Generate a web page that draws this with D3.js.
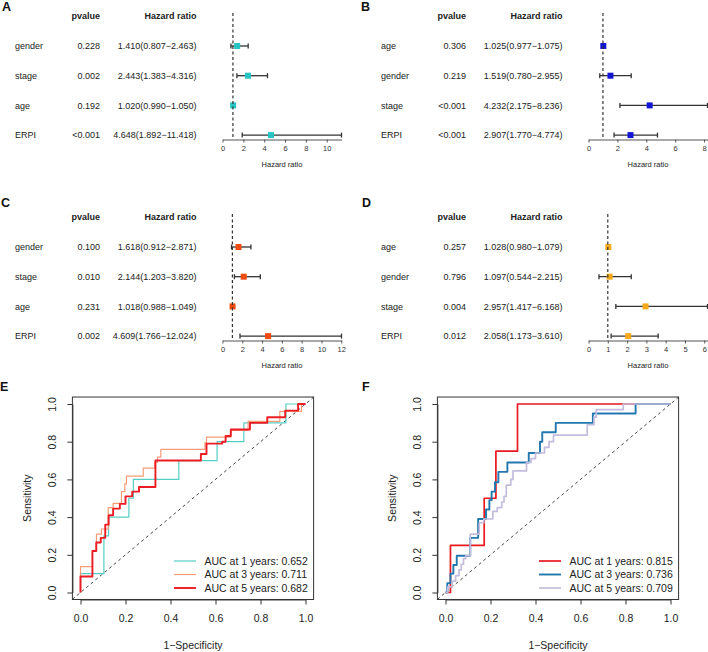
<!DOCTYPE html>
<html lang="en">
<head>
<meta charset="UTF-8">
<title>Cox regression forest plots and time-dependent ROC curves</title>
<script src="https://d3js.org/d3.v7.min.js"></script>
<style>
  body { margin: 0; background: #fff; }
  svg { display: block; }
</style>
</head>
<body>
<svg id="chart"></svg>
<script>
// ---------- forest plot data (A, B, C, D) ----------
const varsA = ["gender", "stage", "age", "ERPI"];
const pA = ["0.228", "0.002", "0.192", "<0.001"];
const hrA = [1.410, 2.443, 1.020, 4.648];
const lowA = [0.807, 1.383, 0.990, 1.892];
const highA = [2.463, 4.316, 1.050, 11.418];
const ticksA = [0, 2, 4, 6, 8, 10];

const varsB = ["age", "gender", "stage", "ERPI"];
const pB = ["0.306", "0.219", "<0.001", "<0.001"];
const hrB = [1.025, 1.519, 4.232, 2.907];
const lowB = [0.977, 0.780, 2.175, 1.770];
const highB = [1.075, 2.955, 8.236, 4.774];
const ticksB = [0, 2, 4, 6, 8];

const varsC = ["gender", "stage", "age", "ERPI"];
const pC = ["0.100", "0.010", "0.231", "0.002"];
const hrC = [1.618, 2.144, 1.018, 4.609];
const lowC = [0.912, 1.203, 0.988, 1.766];
const highC = [2.871, 3.820, 1.049, 12.024];
const ticksC = [0, 2, 4, 6, 8, 10, 12];

const varsD = ["age", "gender", "stage", "ERPI"];
const pD = ["0.257", "0.796", "0.004", "0.012"];
const hrD = [1.028, 1.097, 2.957, 2.058];
const lowD = [0.980, 0.544, 1.417, 1.173];
const highD = [1.079, 2.215, 6.168, 3.610];
const ticksD = [0, 1, 2, 3, 4, 5, 6];

// ---------- ROC data (E, F) : step points (fpr, tpr after step) ----------
const e1Fpr = [0, 0, 0.104, 0.125, 0.215, 0.235, 0.437, 0.607, 0.726, 0.913, 1];
const e1Tpr = [0, 0.1, 0.3, 0.4, 0.5, 0.6, 0.7, 0.8, 0.9, 1.0, 1.0];
const e3Fpr = [0, 0, 0.053, 0.071, 0.093, 0.123, 0.145, 0.182, 0.197, 0.204, 0.279, 0.33, 0.342, 0.357, 0.553, 0.56, 0.668, 0.745, 0.886, 0.982, 1];
const e3Tpr = [0, 0.137, 0.22, 0.31, 0.337, 0.45, 0.473, 0.535, 0.576, 0.617, 0.66, 0.69, 0.718, 0.759, 0.794, 0.824, 0.86, 0.908, 0.961, 1.0, 1.0];
const e5Fpr = [0, 0, 0.053, 0.07, 0.09, 0.11, 0.125, 0.145, 0.175, 0.2, 0.23, 0.26, 0.333, 0.535, 0.56, 0.63, 0.645, 0.668, 0.753, 0.83, 0.91, 0.967, 1];
const e5Tpr = [0, 0.085, 0.22, 0.265, 0.29, 0.36, 0.41, 0.445, 0.47, 0.51, 0.535, 0.56, 0.70, 0.735, 0.79, 0.80, 0.83, 0.865, 0.90, 0.93, 0.965, 1.0, 1.0];

const f1Fpr = [0, 0.022, 0.172, 0.224, 0.32, 1];
const f1Tpr = [0, 0.25, 0.5, 0.75, 1.0, 1.0];
const f3Fpr = [0, 0.008, 0.022, 0.035, 0.05, 0.11, 0.145, 0.18, 0.195, 0.205, 0.22, 0.235, 0.275, 0.37, 0.42, 0.43, 0.49, 0.655, 0.845, 1];
const f3Tpr = [0, 0.05, 0.10, 0.146, 0.195, 0.29, 0.39, 0.44, 0.49, 0.535, 0.585, 0.64, 0.69, 0.74, 0.80, 0.85, 0.90, 0.95, 1.0, 1.0];
const f5Fpr = [0, 0.01, 0.03, 0.045, 0.06, 0.07, 0.08, 0.09, 0.11, 0.15, 0.17, 0.21, 0.23, 0.25, 0.26, 0.27, 0.29, 0.3, 0.36, 0.38, 0.4, 0.44, 0.46, 0.48, 0.63, 0.66, 0.67, 0.79, 1];
const f5Tpr = [0, 0.03, 0.06, 0.09, 0.12, 0.15, 0.18, 0.195, 0.31, 0.37, 0.39, 0.43, 0.45, 0.48, 0.51, 0.57, 0.6, 0.645, 0.69, 0.71, 0.74, 0.77, 0.8, 0.835, 0.89, 0.93, 0.97, 1.0, 1.0];

const aucLabelsE = ["AUC at 1 years: 0.652", "AUC at 3 years: 0.711", "AUC at 5 years: 0.682"];
const aucLabelsF = ["AUC at 1 years: 0.815", "AUC at 3 years: 0.736", "AUC at 5 years: 0.709"];
const rocTicks = [0, 0.2, 0.4, 0.6, 0.8, 1.0];

const fontFam = '"Liberation Sans", Arial, Helvetica, sans-serif';
const W = 708, H = 652;

const svg = d3.select("#chart")
    .attr("width", W)
    .attr("height", H)
    .attr("font-family", fontFam);

svg.append("rect").attr("width", W).attr("height", H).attr("fill", "#fff");

function panelLetter(x, y, s) {
    svg.append("text")
        .attr("x", x).attr("y", y)
        .attr("font-size", 12.5)
        .attr("font-weight", "bold")
        .attr("fill", "#111")
        .text(s);
}

// forest plot of one cox model
function drawForest(ox, oy, vars, pvals, hr, low, high, ticks, color) {
    const g = svg.append("g").attr("transform", "translate(" + ox + "," + oy + ")");
    const x = d3.scaleLinear().domain([0, d3.max(high)]).range([222.5, 341.5]);
    const y = d3.scalePoint().domain(vars).range([46, 135.1]);
    const axisY = 139.5;
    const fmt = d3.format(".3f");

    // header
    g.append("text").attr("x", 100).attr("y", 16).attr("dy", "0.35em")
        .attr("text-anchor", "end").attr("font-size", 9).attr("font-weight", "bold")
        .attr("fill", "#222").text("pvalue");
    g.append("text").attr("x", 196.5).attr("y", 16).attr("dy", "0.35em")
        .attr("text-anchor", "end").attr("font-size", 9).attr("font-weight", "bold")
        .attr("fill", "#222").text("Hazard ratio");

    const rows = g.selectAll("g.row")
        .data(vars.map((v, i) => ({ v, p: pvals[i], hr: hr[i], lo: low[i], hi: high[i] })))
        .enter().append("g").attr("class", "row");

    rows.append("text").attr("x", 15).attr("y", d => y(d.v)).attr("dy", "0.35em")
        .attr("font-size", 9).attr("fill", "#222").text(d => d.v);
    rows.append("text").attr("x", 100).attr("y", d => y(d.v)).attr("dy", "0.35em")
        .attr("text-anchor", "end").attr("font-size", 9).attr("fill", "#222").text(d => d.p);
    rows.append("text").attr("x", 196.5).attr("y", d => y(d.v)).attr("dy", "0.35em")
        .attr("text-anchor", "end").attr("font-size", 9).attr("fill", "#222")
        .text(d => fmt(d.hr) + "(" + fmt(d.lo) + "\u2212" + fmt(d.hi) + ")");

    // reference line at HR = 1
    g.append("line")
        .attr("x1", x(1)).attr("x2", x(1))
        .attr("y1", 13).attr("y2", axisY)
        .attr("stroke", "#333").attr("stroke-width", 1.2)
        .attr("stroke-dasharray", "3,2.5");

    // confidence intervals
    rows.append("line")
        .attr("x1", d => x(d.lo)).attr("x2", d => x(d.hi))
        .attr("y1", d => y(d.v)).attr("y2", d => y(d.v))
        .attr("stroke", "#333").attr("stroke-width", 1.3);
    ["lo", "hi"].forEach(k => {
        rows.append("line")
            .attr("x1", d => x(d[k])).attr("x2", d => x(d[k]))
            .attr("y1", d => y(d.v) - 2.5).attr("y2", d => y(d.v) + 2.5)
            .attr("stroke", "#333").attr("stroke-width", 1.3);
    });
    rows.append("rect")
        .attr("x", d => x(d.hr) - 3).attr("y", d => y(d.v) - 3)
        .attr("width", 6).attr("height", 6)
        .attr("fill", color);

    // axis
    const ax = g.append("g")
        .attr("transform", "translate(0," + axisY + ")")
        .call(d3.axisBottom(x).tickValues(ticks).tickSize(3).tickSizeOuter(0)
            .tickPadding(3).tickFormat(d3.format("d")));
    ax.attr("font-size", 7.5).attr("font-family", fontFam);
    ax.select(".domain").attr("stroke", "#555");
    ax.selectAll(".tick line").attr("stroke", "#555");
    ax.selectAll(".tick text").attr("fill", "#333");

    g.append("text")
        .attr("x", (x.range()[0] + x.range()[1]) / 2).attr("y", 164).attr("dy", "0.35em")
        .attr("text-anchor", "middle").attr("font-size", 7.5).attr("fill", "#222")
        .text("Hazard ratio");
}

// ROC panel
function drawRoc(ox, curves, labels) {
    const g = svg.append("g");
    const x = d3.scaleLinear().domain([0, 1]).range([ox + 80.5, ox + 305.5]);
    const y = d3.scaleLinear().domain([0, 1]).range([592.5, 404]);
    const lo = -0.036, hi = 1.036;

    // diagonal reference
    g.append("line")
        .attr("x1", x(lo)).attr("y1", y(lo))
        .attr("x2", x(hi)).attr("y2", y(hi))
        .attr("stroke", "#333").attr("stroke-width", 0.9)
        .attr("stroke-dasharray", "3,3");

    const line = d3.line()
        .x(d => x(d[0]))
        .y(d => y(d[1]))
        .curve(d3.curveStepAfter);

    curves.forEach(c => {
        g.append("path")
            .datum(d3.zip(c.fpr, c.tpr))
            .attr("fill", "none")
            .attr("stroke", c.color)
            .attr("stroke-width", c.width)
            .attr("stroke-linejoin", "round")
            .attr("d", line);
    });

    // box
    g.append("rect")
        .attr("x", x(lo)).attr("y", y(hi + 0.001))
        .attr("width", x(hi) - x(lo))
        .attr("height", y(lo - 0.001) - y(hi + 0.001))
        .attr("fill", "none").attr("stroke", "#333").attr("stroke-width", 1);

    // axes
    const bottom = y(lo - 0.001);
    const left = x(lo);
    const xa = g.append("g")
        .attr("transform", "translate(0," + bottom + ")")
        .call(d3.axisBottom(x).tickValues(rocTicks).tickSize(5).tickSizeOuter(0)
            .tickPadding(10).tickFormat(d3.format(".1f")));
    xa.attr("font-size", 10.5).attr("font-family", fontFam);
    xa.select(".domain").attr("stroke", "#333");
    xa.selectAll(".tick line").attr("stroke", "#333");
    xa.selectAll(".tick text").attr("fill", "#222");

    const ya = g.append("g")
        .attr("transform", "translate(" + left + ",0)")
        .call(d3.axisLeft(y).tickValues(rocTicks).tickSize(5).tickSizeOuter(0)
            .tickFormat(d3.format(".1f")));
    ya.attr("font-size", 10.5).attr("font-family", fontFam);
    ya.select(".domain").attr("stroke", "#333");
    ya.selectAll(".tick line").attr("stroke", "#333");
    ya.selectAll(".tick text")
        .attr("x", null).attr("dy", null).attr("y", null)
        .attr("transform", "translate(-20,0) rotate(-90)")
        .attr("text-anchor", "middle")
        .attr("dominant-baseline", "central")
        .attr("fill", "#222");

    g.append("text")
        .attr("x", (x(lo) + x(hi)) / 2).attr("y", 645).attr("dy", "0.35em")
        .attr("text-anchor", "middle").attr("font-size", 10.5).attr("fill", "#222")
        .text("1\u2212Specificity");
    g.append("text")
        .attr("transform", "translate(" + (ox + 27) + "," + ((y(lo) + y(hi)) / 2) + ") rotate(-90)")
        .attr("dy", "0.35em")
        .attr("text-anchor", "middle").attr("font-size", 10.5).attr("fill", "#222")
        .text("Sensitivity");

    // legend
    const leg = g.selectAll("g.leg")
        .data(curves.map((c, i) => ({ c, label: labels[i], i })))
        .enter().append("g").attr("class", "leg")
        .attr("transform", d => "translate(" + ox + "," + (561 + d.i * 13.5) + ")");
    leg.append("line")
        .attr("x1", 174).attr("x2", 196)
        .attr("stroke", d => d.c.color)
        .attr("stroke-width", d => d.c.width);
    leg.append("text")
        .attr("x", 204.5).attr("dy", "0.35em")
        .attr("font-size", 10.5).attr("fill", "#222")
        .text(d => d.label);
}

panelLetter(2, 10.5, "A");
drawForest(0, 0, varsA, pA, hrA, lowA, highA, ticksA, "#26C4C2");
panelLetter(361, 11, "B");
drawForest(366, 0, varsB, pB, hrB, lowB, highB, ticksB, "#1414D4");
panelLetter(1, 206.5, "C");
drawForest(0, 201, varsC, pC, hrC, lowC, highC, ticksC, "#EE4A12");
panelLetter(362, 206.5, "D");
drawForest(366, 201, varsD, pD, hrD, lowD, highD, ticksD, "#F5AA1E");

panelLetter(0, 391, "E");
drawRoc(0, [
    { fpr: e1Fpr, tpr: e1Tpr, color: "#55CFC5", width: 1.2 },
    { fpr: e3Fpr, tpr: e3Tpr, color: "#F79C77", width: 1.2 },
    { fpr: e5Fpr, tpr: e5Tpr, color: "#EC1C24", width: 1.9 }
], aucLabelsE);

panelLetter(362, 391, "F");
drawRoc(365, [
    { fpr: f1Fpr, tpr: f1Tpr, color: "#E8191F", width: 1.7 },
    { fpr: f3Fpr, tpr: f3Tpr, color: "#2277AE", width: 1.9 },
    { fpr: f5Fpr, tpr: f5Tpr, color: "#C3BCDD", width: 1.7 }
], aucLabelsF);
</script>
</body>
</html>
